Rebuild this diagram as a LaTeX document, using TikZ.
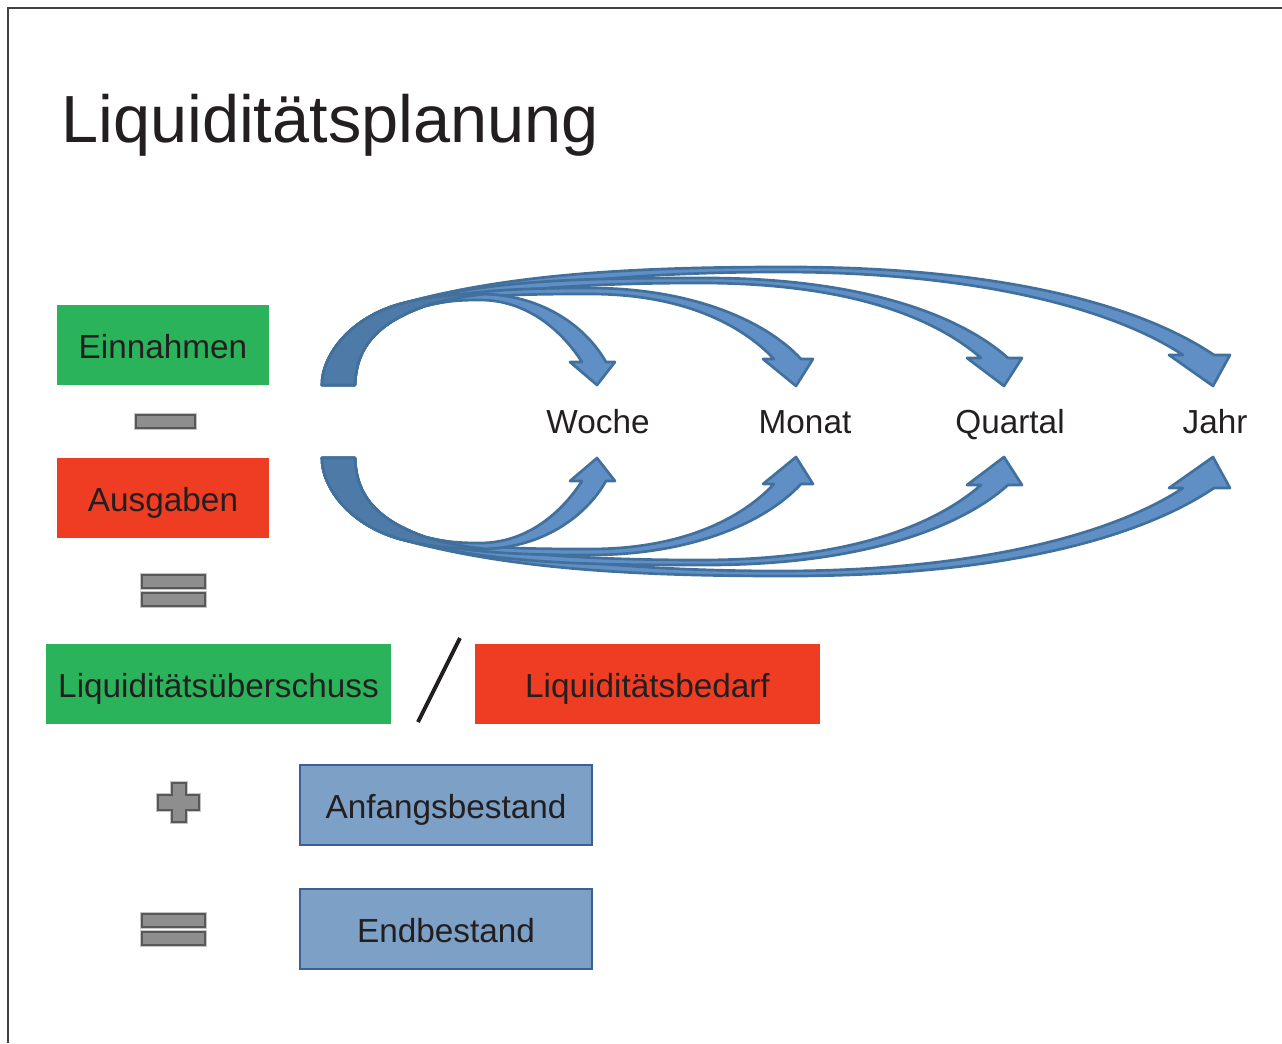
\documentclass[tikz,border=0pt]{standalone}
\usepackage{fontspec}
\setmainfont{Liberation Sans}
\usepackage{tikz}

\definecolor{gruen}{RGB}{43,179,91}
\definecolor{rot}{RGB}{238,61,35}
\definecolor{boxblau}{RGB}{125,160,198}
\definecolor{boxrand}{RGB}{60,96,150}
\definecolor{pfeilblau}{RGB}{95,143,197}
\definecolor{pfeilrand}{RGB}{65,112,157}
\definecolor{basisblau}{RGB}{78,122,168}
\definecolor{zgrau}{RGB}{142,142,142}
\definecolor{zrand}{RGB}{88,88,88}
\definecolor{zhalo}{RGB}{196,196,196}
\definecolor{schrift}{RGB}{35,31,32}

\begin{document}
\begin{tikzpicture}[x=0.75pt,y=0.75pt,yscale=-1,
  box/.style={minimum height=60pt, inner sep=0pt, text height=20pt, text depth=0pt, text=schrift, font=\fontsize{25}{30}\selectfont},
  lbl/.style={inner sep=0pt, text height=17.9pt, text depth=0pt, text=schrift, font=\fontsize{25}{30}\selectfont},
  pfeil/.style={fill=pfeilblau, draw=pfeilrand, line width=2pt, line join=round},
  zeichen/.style={fill=zgrau, draw=zrand, line width=1.5pt, preaction={draw=zhalo, line width=3.3pt}}]
\useasboundingbox (0,0) rectangle (1282,1043);

%Frame
\draw [line width=1.1pt, color=schrift!85]  (8,1043) -- (8,8) -- (1282,8) ;

% Text Node
\draw (61,142) node (titel) [anchor=base west, inner sep=0pt, text=schrift, font=\fontsize{50}{60}\selectfont] {Liquiditätsplanung};

%Curved Arrows (top row, mirrored for bottom row)
\foreach \m/\s in {0/1, 843/-1} {
\begin{scope}[shift={(0,\m)}, yscale=\s]
%Shape: Curved Arrow Jahr
\draw [pfeil] (322,385) .. controls (322,355) and (350,318) .. (400,304) .. controls (500,276) and (620,267) .. (780,267) .. controls (1000,266) and (1140,305) .. (1214,355) -- (1230,355) -- (1213,386) -- (1169,355) -- (1183,355) .. controls (1115,310) and (980,272) .. (780,272) .. controls (600,272) and (480,292) .. (425,306) .. controls (380,322) and (356,345) .. (355,385) -- cycle ;
%Shape: Curved Arrow Quartal
\draw [pfeil] (322,385) .. controls (322,355) and (350,318) .. (400,304) .. controls (490,280) and (580,278) .. (700,278) .. controls (860,277) and (960,315) .. (1008,358) -- (1022,358) -- (1004,386) -- (967,358) -- (981,358) .. controls (935,318) and (850,283) .. (700,283) .. controls (560,283) and (475,293) .. (425,306) .. controls (380,322) and (356,345) .. (355,385) -- cycle ;
%Shape: Curved Arrow Monat
\draw [pfeil] (322,385) .. controls (322,355) and (350,318) .. (400,304) .. controls (470,290) and (520,288) .. (590,288) .. controls (690,288) and (765,320) .. (801,359) -- (813,359) -- (796,386) -- (763,359) -- (774,359) .. controls (740,323) and (680,294) .. (590,294) .. controls (520,294) and (470,295) .. (425,306) .. controls (380,322) and (356,345) .. (355,385) -- cycle ;
%Shape: Curved Arrow Woche
\draw [pfeil] (322,385) .. controls (322,355) and (350,318) .. (400,304) .. controls (440,295) and (455,294) .. (480,294) .. controls (540,294) and (585,325) .. (606,362) -- (615,362) -- (597,385) -- (570,362) -- (582,362) .. controls (560,328) and (525,300) .. (480,300) .. controls (460,300) and (445,301) .. (425,306) .. controls (380,322) and (356,345) .. (355,385) -- cycle ;
%Shape: Arrow Base
\draw [pfeil, fill=basisblau] (322,385) .. controls (322,355) and (350,318) .. (400,304) .. controls (430,296) and (455,294) .. (485,294) .. controls (460,297) and (440,301) .. (425,306) .. controls (380,322) and (356,345) .. (355,385) -- cycle ;
\end{scope}
}

% Text Node
\draw (598,422) node (woche) [lbl] {Woche};
% Text Node
\draw (805,422) node (monat) [lbl] {Monat};
% Text Node
\draw (1010,422) node (quartal) [lbl] {Quartal};
% Text Node
\draw (1215,422) node (jahr) [lbl] {Jahr};

%Shape: Rectangle
\draw (163,345) node (einnahmen) [box, fill=gruen, minimum width=159pt] {Einnahmen};
%Shape: Rectangle
\draw (163,498) node (ausgaben) [box, fill=rot, minimum width=159pt] {Ausgaben};
%Shape: Rectangle
\draw (218.5,684) node (ueberschuss) [box, fill=gruen, minimum width=258.75pt] {Liquiditätsüberschuss};
%Shape: Rectangle
\draw (647.5,684) node (bedarf) [box, fill=rot, minimum width=258.75pt] {Liquiditätsbedarf};
%Shape: Rectangle
\draw (446,805) node (anfang) [box, fill=boxblau, draw=boxrand, line width=0.8pt, minimum width=219pt] {Anfangsbestand};
%Shape: Rectangle
\draw (446,929) node (ende) [box, fill=boxblau, draw=boxrand, line width=0.8pt, minimum width=219pt] {Endbestand};

%Straight Lines
\draw [line width=3pt, color=schrift]  (418,722) -- (460,638) ;

%Shape: Minus
\draw [zeichen] (136,415) rectangle (195,428) ;
%Shape: Equals
\draw [zeichen] (142,575) rectangle (205,588) ;
\draw [zeichen] (142,593) rectangle (205,606) ;
%Shape: Plus
\draw [zeichen] (172,783) -- (186,783) -- (186,795) -- (199,795) -- (199,810) -- (186,810) -- (186,822) -- (172,822) -- (172,810) -- (158,810) -- (158,795) -- (172,795) -- cycle ;
%Shape: Equals
\draw [zeichen] (142,914) rectangle (205,927) ;
\draw [zeichen] (142,932) rectangle (205,945) ;

\end{tikzpicture}
\end{document}
